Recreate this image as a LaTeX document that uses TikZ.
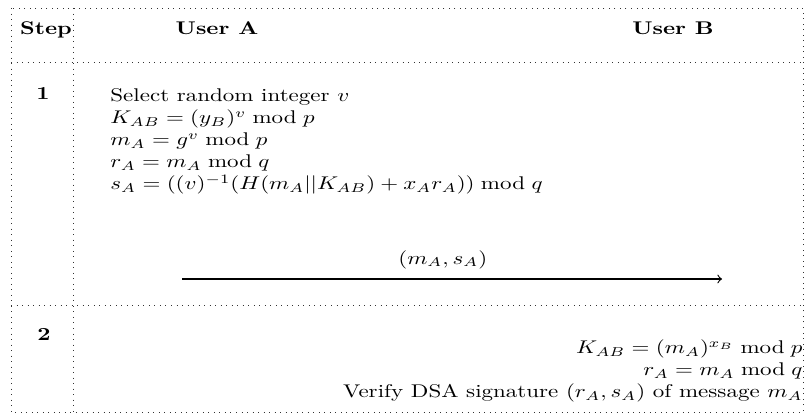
\documentclass[tikz,border=0pt]{standalone}
\usepackage{amsmath}
\usepackage{tikz}
\usetikzlibrary{positioning}
\usetikzlibrary{calc}
\tikzset{
    grid/.style={dotted, line width=0.4pt, black!80},
    head/.style={font=\bfseries, anchor=base, inner sep=0pt},
    stepno/.style={font=\bfseries, anchor=base, inner sep=0pt},
    calcs/.style={inner sep=0pt, font={\lineskiplimit=-20pt}},
}

\begin{document}
\begin{tikzpicture}[x=0.435pt, y=-0.5437pt, yscale=0.8, every node/.append style={transform shape}]
        \useasboundingbox (0,0) rectangle (807,414);
        \draw [grid] (11,8) rectangle (803,412);
        \draw [grid] (73,8) -- (73,412);
        \draw [grid] (11,62) -- (803,62);
        \draw [grid] (11,305) -- (803,305);
        \node [head] (step) at (46,35) {Step};
        \node [head] (usera) at (217,35) {User A};
        \node [head] (userb) at (673,35) {User B};
        \node [stepno] (one) at (43,100) {1};
        \node [stepno] (two) at (44,341) {2};
        \node [calcs, anchor=base west, align=left]
            (calca)
            at (110,190)
            {Select random integer $v$\\
             $K_{AB} = (y_B)^v \bmod p$\\
             $m_A = g^v \bmod p$\\
             $r_A = m_A \bmod q$\\
             $s_A = ((v)^{-1}(H(m_A||K_{AB}) + x_Ar_A)) \bmod q$};
        \node [calcs, anchor=base east, align=right]
            (calcb)
            at (803,398)
            {$K_{AB} = (m_A)^{x_B} \bmod p$\\
             $r_A = m_A \bmod q$\\
             Verify DSA signature $(r_A,s_A)$ of message $m_A$};
        \coordinate (src) at (182,279);
        \coordinate (dst) at (722,279);
        \draw [->, line width=0.5pt] (src) -- node [pos=0.483, above=2pt] (msg) {$(m_A,s_A)$} (dst);
    \end{tikzpicture}
\end{document}
